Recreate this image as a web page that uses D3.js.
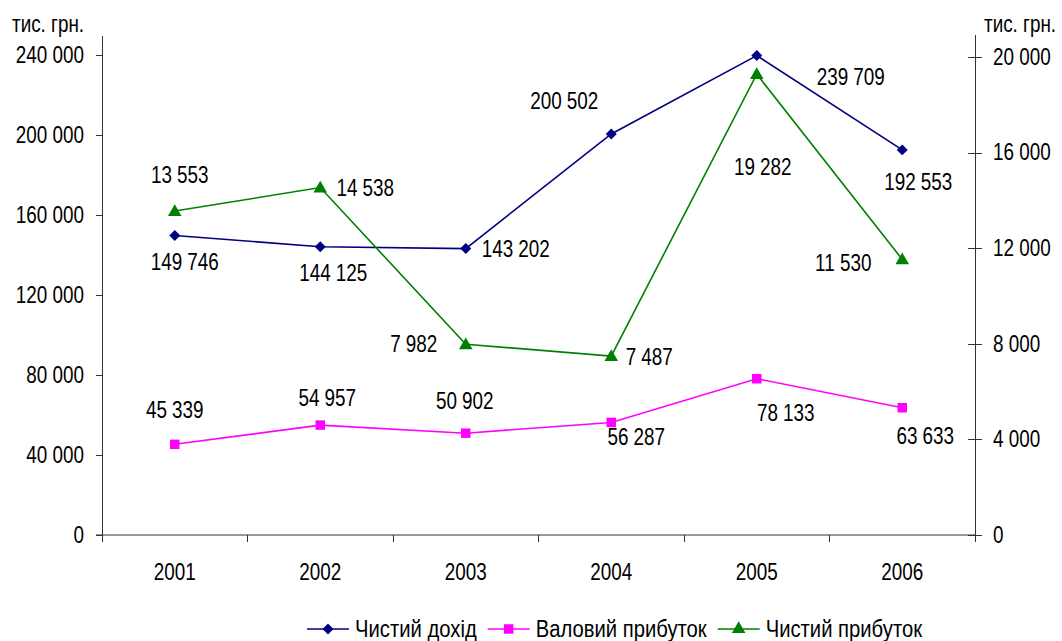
<!DOCTYPE html>
<html>
<head>
<meta charset="utf-8">
<script src="https://cdn.jsdelivr.net/npm/d3@7"></script>
<style>
  body { margin: 0; background: #fff; }
  text { font-family: "Liberation Sans", Arial, sans-serif; font-size: 23px; fill: #000; }
  .axis path, .axis line { stroke: #333; shape-rendering: crispEdges; }
</style>
</head>
<body>
<svg id="chart" width="1062" height="641"></svg>
<script>
var years = ["2001", "2002", "2003", "2004", "2005", "2006"];
var netIncome = [149746, 144125, 143202, 200502, 239709, 192553];
var grossProfit = [45339, 54957, 50902, 56287, 78133, 63633];
var netProfit = [13553, 14538, 7982, 7487, 19282, 11530];
var leftTicks = [0, 40000, 80000, 120000, 160000, 200000, 240000];
var rightTicks = [0, 4000, 8000, 12000, 16000, 20000];
var unitLabel = "тис. грн.";
var seriesNames = ["Чистий дохід", "Валовий прибуток", "Чистий прибуток"];

// label offsets from the point (dx, dy)
var netIncomeOffsets = [[10, 26], [13, 26], [50, 0], [-47, -33], [94, 21], [16, 32]];
var grossProfitOffsets = [[0, -34], [7, -27], [-1, -32], [25, 15], [29, 34], [23, 28]];
var netProfitOffsets = [[5, -36], [45, 0], [-52, 0], [38, 1], [6, 93], [-59, 4]];

var svg = d3.select("#chart");

var plotLeft = 102, plotRight = 975, plotTop = 35, plotBottom = 535;

// narrow the glyphs like Arial Narrow
var narrowBy = function(k) {
    return function(sel) {
        sel.each(function() {
            var len = this.getComputedTextLength();
            d3.select(this)
                .attr("textLength", len * k)
                .attr("lengthAdjust", "spacingAndGlyphs");
        });
    };
};
var narrow = narrowBy(0.82);

var xScale = d3.scaleBand()
    .domain(years)
    .range([plotLeft, plotRight]);

var yLeft = d3.scaleLinear()
    .domain([0, 250000])
    .range([plotBottom, plotTop]);

var yRight = d3.scaleLinear()
    .domain([0, 20000])
    .range([plotBottom, 57]);

var fmt = function(v) { return d3.format(",")(v).replace(/,/g, " "); };

// x axis line
svg.append("line")
    .attr("class", "axis")
    .attr("x1", plotLeft - 6).attr("x2", plotRight)
    .attr("y1", plotBottom).attr("y2", plotBottom)
    .attr("stroke", "#333");

// boundary ticks between categories
svg.append("g").attr("class", "axis")
    .selectAll("line")
    .data(years.concat(["end"]))
    .enter().append("line")
    .attr("x1", function(d, i) { return plotLeft + i * xScale.step(); })
    .attr("x2", function(d, i) { return plotLeft + i * xScale.step(); })
    .attr("y1", plotBottom)
    .attr("y2", plotBottom + 7);

svg.append("g")
    .selectAll("text")
    .data(years)
    .enter().append("text")
    .attr("x", function(d) { return xScale(d) + xScale.bandwidth() / 2; })
    .attr("y", 580)
    .attr("text-anchor", "middle")
    .text(function(d) { return d; })
    .call(narrow);

var yAxisL = d3.axisLeft(yLeft)
    .tickValues(leftTicks)
    .tickFormat(fmt)
    .tickSize(6)
    .tickSizeOuter(0)
    .tickPadding(12);

var gL = svg.append("g")
    .attr("class", "axis")
    .attr("transform", "translate(" + plotLeft + ",0)")
    .call(yAxisL);
gL.selectAll("text")
    .style("font-size", "23px")
    .attr("font-family", null)
    .attr("fill", "#000")
    .call(narrow);

var yAxisR = d3.axisRight(yRight)
    .tickValues(rightTicks)
    .tickFormat(fmt)
    .tickSize(7)
    .tickSizeOuter(0)
    .tickPadding(11);

var gR = svg.append("g")
    .attr("class", "axis")
    .attr("transform", "translate(" + plotRight + ",0)")
    .call(yAxisR);
gR.select(".domain").remove();
gR.selectAll(".tick line").attr("x1", -7);
gR.selectAll("text")
    .style("font-size", "23px")
    .attr("font-family", null)
    .attr("fill", "#000")
    .call(narrow);
gR.append("line")
    .attr("y1", plotBottom).attr("y2", plotTop)
    .attr("stroke", "#333");

svg.append("text").attr("x", 12).attr("y", 32).text(unitLabel).call(narrow);
svg.append("text").attr("x", 984).attr("y", 32).text(unitLabel).call(narrow);

// diamond drawn as a square turned by 45 degrees
var diamond = {
    draw: function(context, size) {
        var r = Math.sqrt(size / 2);
        context.moveTo(0, -r);
        context.lineTo(r, 0);
        context.lineTo(0, r);
        context.lineTo(-r, 0);
        context.closePath();
    }
};

// series
var series = [
    {values: netIncome, scale: yLeft, color: "#000080", symbol: diamond, size: 60, offsets: netIncomeOffsets},
    {values: grossProfit, scale: yLeft, color: "#FF00FF", symbol: d3.symbolSquare, size: 90, offsets: grossProfitOffsets},
    {values: netProfit, scale: yRight, color: "#008000", symbol: d3.symbolTriangle, size: 80, offsets: netProfitOffsets}
];

var cx = function(i) { return xScale(years[i]) + xScale.bandwidth() / 2; };

series.forEach(function(s) {
    var line = d3.line()
        .x(function(d, i) { return cx(i); })
        .y(function(d) { return s.scale(d); });

    svg.append("path")
        .datum(s.values)
        .attr("d", line)
        .attr("fill", "none")
        .attr("stroke", s.color)
        .attr("stroke-width", 1.6);

    svg.append("g")
        .selectAll("path")
        .data(s.values)
        .enter().append("path")
        .attr("d", d3.symbol().type(s.symbol).size(s.size))
        .attr("transform", function(d, i) {
            var dy = s.symbol === d3.symbolTriangle ? 1 : 0;
            return "translate(" + cx(i) + "," + (s.scale(d) + dy) + ")";
        })
        .attr("fill", s.color);

    svg.append("g")
        .selectAll("text")
        .data(s.values)
        .enter().append("text")
        .attr("x", function(d, i) { return cx(i) + s.offsets[i][0]; })
        .attr("y", function(d, i) { return s.scale(d) + s.offsets[i][1]; })
        .attr("dy", "0.35em")
        .attr("text-anchor", "middle")
        .text(function(d) { return fmt(d); })
        .call(narrow);
});

// legend
var legend = svg.append("g");
var lx = 307, ly = 629;
series.forEach(function(s, i) {
    legend.append("line")
        .attr("x1", lx).attr("x2", lx + 42)
        .attr("y1", ly).attr("y2", ly)
        .attr("stroke", s.color)
        .attr("stroke-width", 1.6);
    legend.append("path")
        .attr("d", d3.symbol().type(s.symbol).size(s.size))
        .attr("transform", "translate(" + (lx + 21) + "," + ly + ")")
        .attr("fill", s.color);
    var t = legend.append("text")
        .attr("x", lx + 48)
        .attr("y", ly)
        .attr("dy", "0.35em")
        .text(seriesNames[i])
        .call(narrowBy(0.88));
    lx = lx + 48 + (+t.attr("textLength")) + 11;
});
</script>
</body>
</html>
